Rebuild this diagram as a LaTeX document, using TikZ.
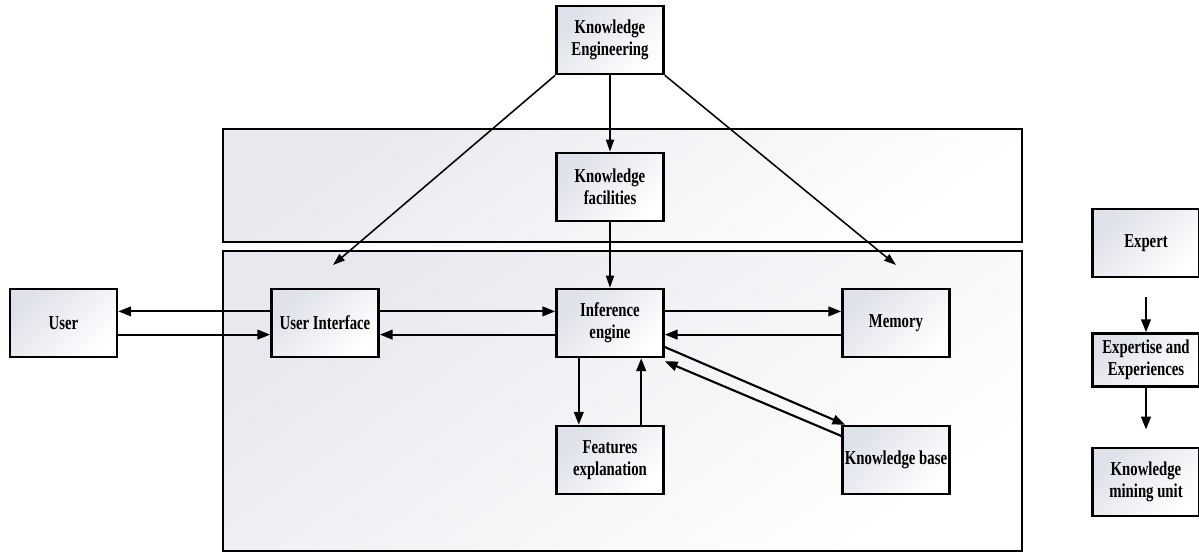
\documentclass[tikz,border=0pt]{standalone}
\usepackage{fontspec}
\setmainfont{Liberation Serif}[FakeStretch=0.75]
\usetikzlibrary{positioning,arrows.meta,calc}

\definecolor{boxshade}{RGB}{222,225,233}
\definecolor{panelshade}{RGB}{231,233,238}

\tikzset{
  block/.style={draw, line width=1.8pt, top color=boxshade, bottom color=white, shading angle=45,
    minimum width=2.675cm, minimum height=1.7cm, align=center, inner sep=1pt,
    font=\bfseries\fontsize{14}{15.6}\selectfont},
  panel/.style={draw, line width=1.8pt, top color=panelshade, bottom color=white, shading angle=35},
  link/.style={line width=1.5pt, -{Triangle[length=0.32cm,width=0.24cm]}},
  feed/.style={line width=1.1pt, -{Triangle[length=0.3cm,width=0.2cm]}}
}

\begin{document}
\begin{tikzpicture}[x=0.025cm, y=-0.025cm]
    \useasboundingbox (0,0) rectangle (1199,554);

    % panels
    \draw[panel] (223,129) rectangle (1022,242);
    \draw[panel] (223,251) rectangle (1022,551);

    % blocks
    \node[block] (ke) at (610,40) {Knowledge\\Engineering};
    \node[block] (kf) at (610,187) {Knowledge\\facilities};
    \node[block] (user) at (63.5,323) {User};
    \node[block] (ui) at (325,323) {User Interface};
    \node[block] (ie) at (610,323) {Inference\\engine};
    \node[block] (mem) at (896,323) {Memory};
    \node[block] (feat) at (610,460) {Features\\explanation};
    \node[block] (kb) at (896,460) {Knowledge base};

    \node[block] (expert) at (1146,243) {Expert};
    \node[block, minimum height=1.325cm] (expertise) at (1146,360) {Expertise and\\Experiences};
    \node[block] (kmu) at (1146,482) {Knowledge\\mining unit};

    \coordinate (uitip) at (333,265);
    \coordinate (memtip) at (896,265);

    % knowledge engineering links
    \draw[feed] (ke.south west) -- (uitip);
    \draw[feed] (ke.south east) -- (memtip);
    \draw[feed] (ke) -- (kf);
    \draw[feed] (kf) -- (ie);

    % main flow
    \draw[link] ([yshift=0.29cm]ui.west) -- ([yshift=0.29cm]user.east);
    \draw[link] ([yshift=-0.29cm]user.east) -- ([yshift=-0.29cm]ui.west);
    \draw[link] ([yshift=0.29cm]ui.east) -- ([yshift=0.29cm]ie.west);
    \draw[link] ([yshift=-0.29cm]ie.west) -- ([yshift=-0.29cm]ui.east);
    \draw[link] ([yshift=0.29cm]ie.east) -- ([yshift=0.29cm]mem.west);
    \draw[link] ([yshift=-0.29cm]mem.west) -- ([yshift=-0.29cm]ie.east);
    \draw[link] ([xshift=-0.78cm]ie.south) -- ([xshift=-0.78cm]feat.north);
    \draw[link] ([xshift=0.78cm]feat.north) -- ([xshift=0.78cm]ie.south);
    \draw[link] ([yshift=-0.6cm]ie.east) -- ([xshift=0.1cm]kb.north west);
    \draw[link] ([yshift=-0.28cm]kb.north west) -- ([yshift=-0.075cm]ie.south east);

    % expert chain
    \draw[link, shorten <=0.48cm] (expert) -- (expertise);
    \draw[link, shorten >=0.43cm] (expertise) -- (kmu);
\end{tikzpicture}
\end{document}
